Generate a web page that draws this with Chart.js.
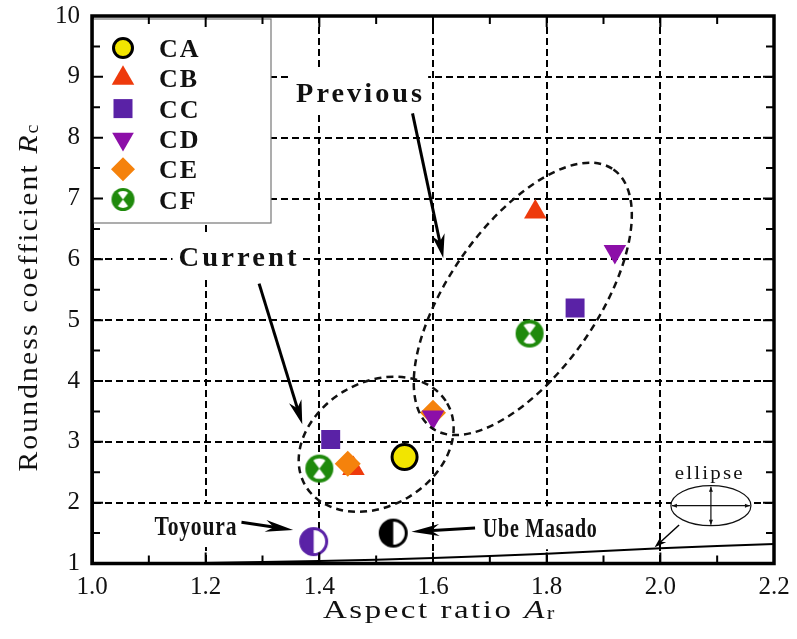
<!DOCTYPE html>
<html>
<head>
<meta charset="utf-8">
<script src="https://cdn.jsdelivr.net/npm/chart.js@4.4.0/dist/chart.umd.min.js"></script>
<style>
  html, body { margin: 0; padding: 0; background: #fff; }
  #wrap { width: 797px; height: 639px; }
</style>
</head>
<body>
<div id="wrap"><canvas id="roundnessChart"></canvas></div>
<script>
// aspect ratio (x) and roundness coefficient (y) per sample
const seriesNames = ['CA', 'CB', 'CC', 'CD', 'CE', 'CF'];
const caAr = [1.55];        const caRc = [2.75];
const cbAr = [1.78, 1.46];  const cbRc = [6.78, 2.56];
const ccAr = [1.85, 1.42];  const ccRc = [5.20, 3.04];
const cdAr = [1.92, 1.60];  const cdRc = [6.13, 3.41];
const ceAr = [1.60, 1.45];  const ceRc = [3.48, 2.64];
const cfAr = [1.77, 1.40];  const cfRc = [4.78, 2.56];
const toyouraAr = [1.39];   const toyouraRc = [1.36];
const ubeAr = [1.53];       const ubeRc = [1.50];
// reference curve of a plain ellipse
const ellipseAr = [1.0, 1.2, 1.4, 1.6, 1.8, 2.0, 2.2];
const ellipseRc = [1.0, 1.01, 1.04, 1.09, 1.16, 1.25, 1.32];
// tick labels
const xTicks = [1.0, 1.2, 1.4, 1.6, 1.8, 2.0, 2.2];
const yTicks = [1, 2, 3, 4, 5, 6, 7, 8, 9, 10];

const colors = {
    CA: '#f2e500', CB: '#ee3a0c', CC: '#5a22a6', CD: '#8c0fa8',
    CE: '#f5820c', CF: '#1f8a0c', toyoura: '#5a22a6', ube: '#000'
};
const serif = '"Liberation Serif", "Times New Roman", serif';

const pts = (xs, ys) => xs.map((x, i) => ({ x: x, y: ys[i] }));

function makeIcon(r, draw) {
    const c = document.createElement('canvas');
    c.width = c.height = Math.ceil(2 * r + 2);
    draw(c.getContext('2d'), c.width / 2, r);
    return c;
}
function crossCircle(r) {
    return makeIcon(r, (ctx, c, r) => {
        ctx.fillStyle = colors.CF;
        ctx.beginPath(); ctx.arc(c, c, r, 0, Math.PI * 2); ctx.fill();
        ctx.fillStyle = '#fff';
        ctx.beginPath(); ctx.arc(c, c, r * 0.74, 0, Math.PI * 2); ctx.fill();
        ctx.fillStyle = colors.CF;
        [0, Math.PI].forEach(a => {
            ctx.beginPath(); ctx.moveTo(c, c);
            ctx.arc(c, c, r * 0.8, a - Math.PI / 3.4, a + Math.PI / 3.4);
            ctx.closePath(); ctx.fill();
        });
    });
}
function halfCircle(r, color) {
    return makeIcon(r, (ctx, c, r) => {
        ctx.fillStyle = '#fff';
        ctx.beginPath(); ctx.arc(c, c, r - 1.5, 0, Math.PI * 2); ctx.fill();
        ctx.fillStyle = color;
        ctx.beginPath(); ctx.arc(c, c, r - 1.5, Math.PI / 2, Math.PI * 1.5); ctx.closePath(); ctx.fill();
        ctx.strokeStyle = color; ctx.lineWidth = 3;
        ctx.beginPath(); ctx.arc(c, c, r - 1.5, 0, Math.PI * 2); ctx.stroke();
    });
}

// annotations, placed in data units
const ellipses = [
    { ar: 1.50, rc: 2.96, rx: 82, ry: 62, rot: -30 },
    { ar: 1.758, rc: 5.35, rx: 158, ry: 74, rot: -55 }
];
const arrows = [
    { from: [1.294, 5.60], to: [1.370, 3.29], lw: 3, len: 24, w: 13 },
    { from: [1.564, 8.40], to: [1.618, 6.02], lw: 3, len: 24, w: 13 },
    { from: [1.263, 1.677], to: [1.354, 1.55], lw: 3, len: 28, w: 12 },
    { from: [1.674, 1.583], to: [1.562, 1.523], lw: 3, len: 28, w: 12 },
    { from: [2.033, 1.633], to: [1.990, 1.266], lw: 1.5, len: 12, w: 8 }
];
const notes = [
    { text: 'Current', ar: 1.256, rc: 5.89, font: 'bold 28px ' + serif, sp: 3, w: 118, box: true },
    { text: 'Previous', ar: 1.470, rc: 8.59, font: 'bold 28px ' + serif, sp: 3, w: 126, box: true },
    { text: 'Toyoura', ar: 1.182, rc: 1.468, font: 'bold 27px ' + serif, sp: 1, w: 82, box: true },
    { text: 'Ube Masado', ar: 1.788, rc: 1.431, font: 'bold 27px ' + serif, sp: 1, w: 114, box: true },
    { text: 'ellipse', ar: 2.085, rc: 2.384, font: '19px ' + serif, sp: 2, w: 68, box: false }
];
const ellipseIcon = { ar: 2.089, rc: 1.95, rx: 40, ry: 20 };

function fitText(ctx, text, cx, by, font, sp, width, box) {
    ctx.save();
    ctx.font = font;
    ctx.letterSpacing = sp + 'px';
    const w = ctx.measureText(text).width - sp;
    if (box) {
        ctx.fillStyle = '#fff';
        ctx.fillRect(cx - width / 2 - 6, by - 31, width + 12, 43);
    }
    ctx.translate(cx - width / 2, by);
    ctx.scale(width / w, 1);
    ctx.fillStyle = '#111';
    ctx.textAlign = 'left';
    ctx.textBaseline = 'alphabetic';
    ctx.fillText(text, 0, 0);
    ctx.restore();
}

function drawArrow(ctx, x1, y1, x2, y2, lw, len, w) {
    const ang = Math.atan2(y2 - y1, x2 - x1);
    ctx.save();
    ctx.strokeStyle = '#000'; ctx.fillStyle = '#000'; ctx.lineWidth = lw;
    ctx.beginPath();
    ctx.moveTo(x1, y1);
    ctx.lineTo(x2 - Math.cos(ang) * len * 0.6, y2 - Math.sin(ang) * len * 0.6);
    ctx.stroke();
    ctx.translate(x2, y2); ctx.rotate(ang);
    ctx.beginPath();
    ctx.moveTo(0, 0); ctx.lineTo(-len, -w / 2); ctx.lineTo(-len * 0.7, 0); ctx.lineTo(-len, w / 2);
    ctx.closePath(); ctx.fill();
    ctx.restore();
}

function drawTitle(ctx, parts, width, rotate, cx, cy) {
    ctx.save();
    ctx.letterSpacing = '2px';
    let total = 0;
    parts.forEach(p => { ctx.font = p.f; p.w = ctx.measureText(p.t).width; total += p.w; });
    ctx.translate(cx, cy);
    if (rotate) ctx.rotate(-Math.PI / 2);
    ctx.scale(width / total, 1);
    ctx.fillStyle = '#111';
    ctx.textBaseline = 'alphabetic';
    let x = -total / 2;
    parts.forEach(p => { ctx.font = p.f; ctx.fillText(p.t, x, p.dy || 0); x += p.w; });
    ctx.restore();
}

function drawMarker(ctx, name, x, y) {
    ctx.save();
    ctx.fillStyle = colors[name];
    ctx.beginPath();
    if (name === 'CA') {
        ctx.arc(x, y, 9.5, 0, Math.PI * 2);
        ctx.fill(); ctx.lineWidth = 3; ctx.strokeStyle = '#000'; ctx.stroke();
    } else if (name === 'CB') {
        const r = 13;
        ctx.moveTo(x, y - r); ctx.lineTo(x + r * 0.866, y + r / 2); ctx.lineTo(x - r * 0.866, y + r / 2);
        ctx.closePath(); ctx.fill();
    } else if (name === 'CC') {
        ctx.fillRect(x - 9.5, y - 9.5, 19, 19);
    } else if (name === 'CD') {
        const r = 12.5;
        ctx.moveTo(x, y + r); ctx.lineTo(x + r * 0.866, y - r / 2); ctx.lineTo(x - r * 0.866, y - r / 2);
        ctx.closePath(); ctx.fill();
    } else if (name === 'CE') {
        const r = 12;
        ctx.moveTo(x, y - r); ctx.lineTo(x + r, y); ctx.lineTo(x, y + r); ctx.lineTo(x - r, y);
        ctx.closePath(); ctx.fill();
    } else if (name === 'CF') {
        const icon = crossCircle(11.5);
        ctx.drawImage(icon, x - icon.width / 2, y - icon.height / 2);
    }
    ctx.restore();
}

const annotationPlugin = {
    id: 'annotations',
    afterDatasetsDraw(chart) {
        const ctx = chart.ctx;
        const xs = chart.scales.x, ys = chart.scales.y;
        const px = v => xs.getPixelForValue(v), py = v => ys.getPixelForValue(v);
        const area = chart.chartArea;

        // dashed group outlines
        ctx.save();
        ctx.strokeStyle = '#111'; ctx.lineWidth = 2.5; ctx.setLineDash([7, 5]);
        ellipses.forEach(e => {
            ctx.beginPath();
            ctx.ellipse(px(e.ar), py(e.rc), e.rx, e.ry, e.rot * Math.PI / 180, 0, Math.PI * 2);
            ctx.stroke();
        });
        ctx.restore();

        notes.forEach(n => fitText(ctx, n.text, px(n.ar), py(n.rc), n.font, n.sp, n.w, n.box));
        arrows.forEach(a => drawArrow(ctx, px(a.from[0]), py(a.from[1]), px(a.to[0]), py(a.to[1]), a.lw, a.len, a.w));

        // small ellipse sketch
        const ex = px(ellipseIcon.ar), ey = py(ellipseIcon.rc);
        ctx.save();
        ctx.fillStyle = '#fff'; ctx.strokeStyle = '#111'; ctx.lineWidth = 1.2;
        ctx.beginPath(); ctx.ellipse(ex, ey, ellipseIcon.rx, ellipseIcon.ry, 0, 0, Math.PI * 2);
        ctx.fill(); ctx.stroke();
        ctx.beginPath();
        ctx.moveTo(ex - ellipseIcon.rx + 1, ey); ctx.lineTo(ex + ellipseIcon.rx - 1, ey);
        ctx.moveTo(ex, ey - ellipseIcon.ry + 1); ctx.lineTo(ex, ey + ellipseIcon.ry - 1);
        ctx.stroke();
        ctx.fillStyle = '#111';
        [[-1, 0], [1, 0], [0, -1], [0, 1]].forEach(d => {
            const tx = ex + d[0] * (ellipseIcon.rx - 1), ty = ey + d[1] * (ellipseIcon.ry - 1);
            ctx.beginPath();
            ctx.moveTo(tx, ty);
            ctx.lineTo(tx - d[0] * 5 - d[1] * 2, ty - d[1] * 5 - d[0] * 2);
            ctx.lineTo(tx - d[0] * 5 + d[1] * 2, ty - d[1] * 5 + d[0] * 2);
            ctx.closePath(); ctx.fill();
        });
        ctx.restore();

        // legend box
        const lx = area.left + 1, ly = area.top + 3;
        ctx.save();
        ctx.fillStyle = '#fff'; ctx.fillRect(lx, ly, 178, 204);
        ctx.strokeStyle = '#777'; ctx.lineWidth = 1.2; ctx.strokeRect(lx, ly, 178, 204);
        seriesNames.forEach((name, i) => {
            const cy = ly + 29 + i * 30.3;
            drawMarker(ctx, name, lx + 30, cy);
            ctx.font = 'bold 26px ' + serif;
            ctx.letterSpacing = '2px';
            ctx.fillStyle = '#111';
            ctx.textBaseline = 'alphabetic';
            ctx.fillText(name, lx + 66, cy + 9);
        });
        ctx.restore();
    },
    afterDraw(chart) {
        const ctx = chart.ctx;
        const area = chart.chartArea;
        const xs = chart.scales.x, ys = chart.scales.y;
        ctx.save();
        ctx.strokeStyle = '#000';
        // inward ticks on all four sides
        ctx.lineWidth = 2;
        ctx.beginPath();
        for (let i = 0; i <= 12; i++) {
            const x = xs.getPixelForValue(1 + i / 10), l = i % 2 ? 8 : 11;
            ctx.moveTo(x, area.bottom); ctx.lineTo(x, area.bottom - l);
            ctx.moveTo(x, area.top); ctx.lineTo(x, area.top + l);
        }
        for (let i = 0; i <= 18; i++) {
            const y = ys.getPixelForValue(1 + i / 2), l = i % 2 ? 8 : 11;
            ctx.moveTo(area.left, y); ctx.lineTo(area.left + l, y);
            ctx.moveTo(area.right, y); ctx.lineTo(area.right - l, y);
        }
        ctx.stroke();
        ctx.lineWidth = 3.5;
        ctx.strokeRect(area.left, area.top, area.right - area.left, area.bottom - area.top);
        ctx.restore();

        drawTitle(ctx, [
            { t: 'Aspect ratio ', f: '26px ' + serif },
            { t: 'A', f: 'italic 26px ' + serif },
            { t: 'r', f: '18px ' + serif, dy: 1 }
        ], 234, false, 440, 618);
        drawTitle(ctx, [
            { t: 'Roundness coefficient ', f: '27px ' + serif },
            { t: 'R', f: 'italic 27px ' + serif },
            { t: 'c', f: '18px ' + serif, dy: 1 }
        ], 349, true, 37, 297);
    }
};

const ctx = document.getElementById('roundnessChart');
new Chart(ctx, {
    type: 'scatter',
    data: {
        datasets: [
            { label: 'CA', data: pts(caAr, caRc), pointStyle: 'circle', pointRadius: 12.5,
              backgroundColor: colors.CA, borderColor: '#000', borderWidth: 3, order: 3 },
            { label: 'CB', data: pts(cbAr, cbRc), pointStyle: 'triangle', pointRadius: 13,
              backgroundColor: colors.CB, borderWidth: 0, order: 2 },
            { label: 'CC', data: pts(ccAr, ccRc), pointStyle: 'rect', pointRadius: 13.4,
              backgroundColor: colors.CC, borderWidth: 0, order: 3 },
            { label: 'CD', data: pts(cdAr, cdRc), pointStyle: 'triangle', rotation: 180, pointRadius: 13,
              backgroundColor: colors.CD, borderWidth: 0, order: 0 },
            { label: 'CE', data: pts(ceAr, ceRc), pointStyle: 'rectRot', pointRadius: 13,
              backgroundColor: colors.CE, borderWidth: 0, order: 1 },
            { label: 'CF', data: pts(cfAr, cfRc), pointStyle: crossCircle(14), pointRadius: 14, order: 3 },
            { label: 'Toyoura', data: pts(toyouraAr, toyouraRc), pointStyle: halfCircle(14.5, colors.toyoura),
              pointRadius: 14, order: 3 },
            { label: 'Ube Masado', data: pts(ubeAr, ubeRc), pointStyle: halfCircle(14.5, colors.ube),
              pointRadius: 14, order: 3 },
            { label: 'ellipse', type: 'line', data: pts(ellipseAr, ellipseRc), borderColor: '#000',
              borderWidth: 2, pointRadius: 0, tension: 0.3, order: 10 }
        ]
    },
    options: {
        responsive: true,
        maintainAspectRatio: false,
        animation: false,
        events: [],
        layout: { padding: { left: 0, top: 16, right: 23, bottom: 0 } },
        plugins: { legend: { display: false }, tooltip: { enabled: false } },
        scales: {
            x: {
                type: 'linear', min: 1.0, max: 2.2,
                afterBuildTicks: s => { s.ticks = xTicks.map(v => ({ value: v })); },
                afterFit: s => { s.height = 75.5; s.paddingLeft = 0; s.paddingRight = 0; },
                ticks: { callback: v => Number(v).toFixed(1), color: '#111', padding: 9,
                         font: { family: serif, size: 25 }, maxRotation: 0 },
                grid: { color: '#000', lineWidth: 2, drawTicks: false },
                border: { display: true, color: '#000', width: 3, dash: [7, 4] }
            },
            y: {
                type: 'linear', min: 1, max: 10,
                afterBuildTicks: s => { s.ticks = yTicks.map(v => ({ value: v })); },
                afterFit: s => { s.width = 92; s.paddingTop = 0; s.paddingBottom = 0; },
                ticks: { color: '#111', padding: 12, font: { family: serif, size: 25 } },
                grid: { color: '#000', lineWidth: 2, drawTicks: false },
                border: { display: true, color: '#000', width: 3, dash: [7, 4] }
            }
        }
    },
    plugins: [annotationPlugin]
});
</script>
</body>
</html>
